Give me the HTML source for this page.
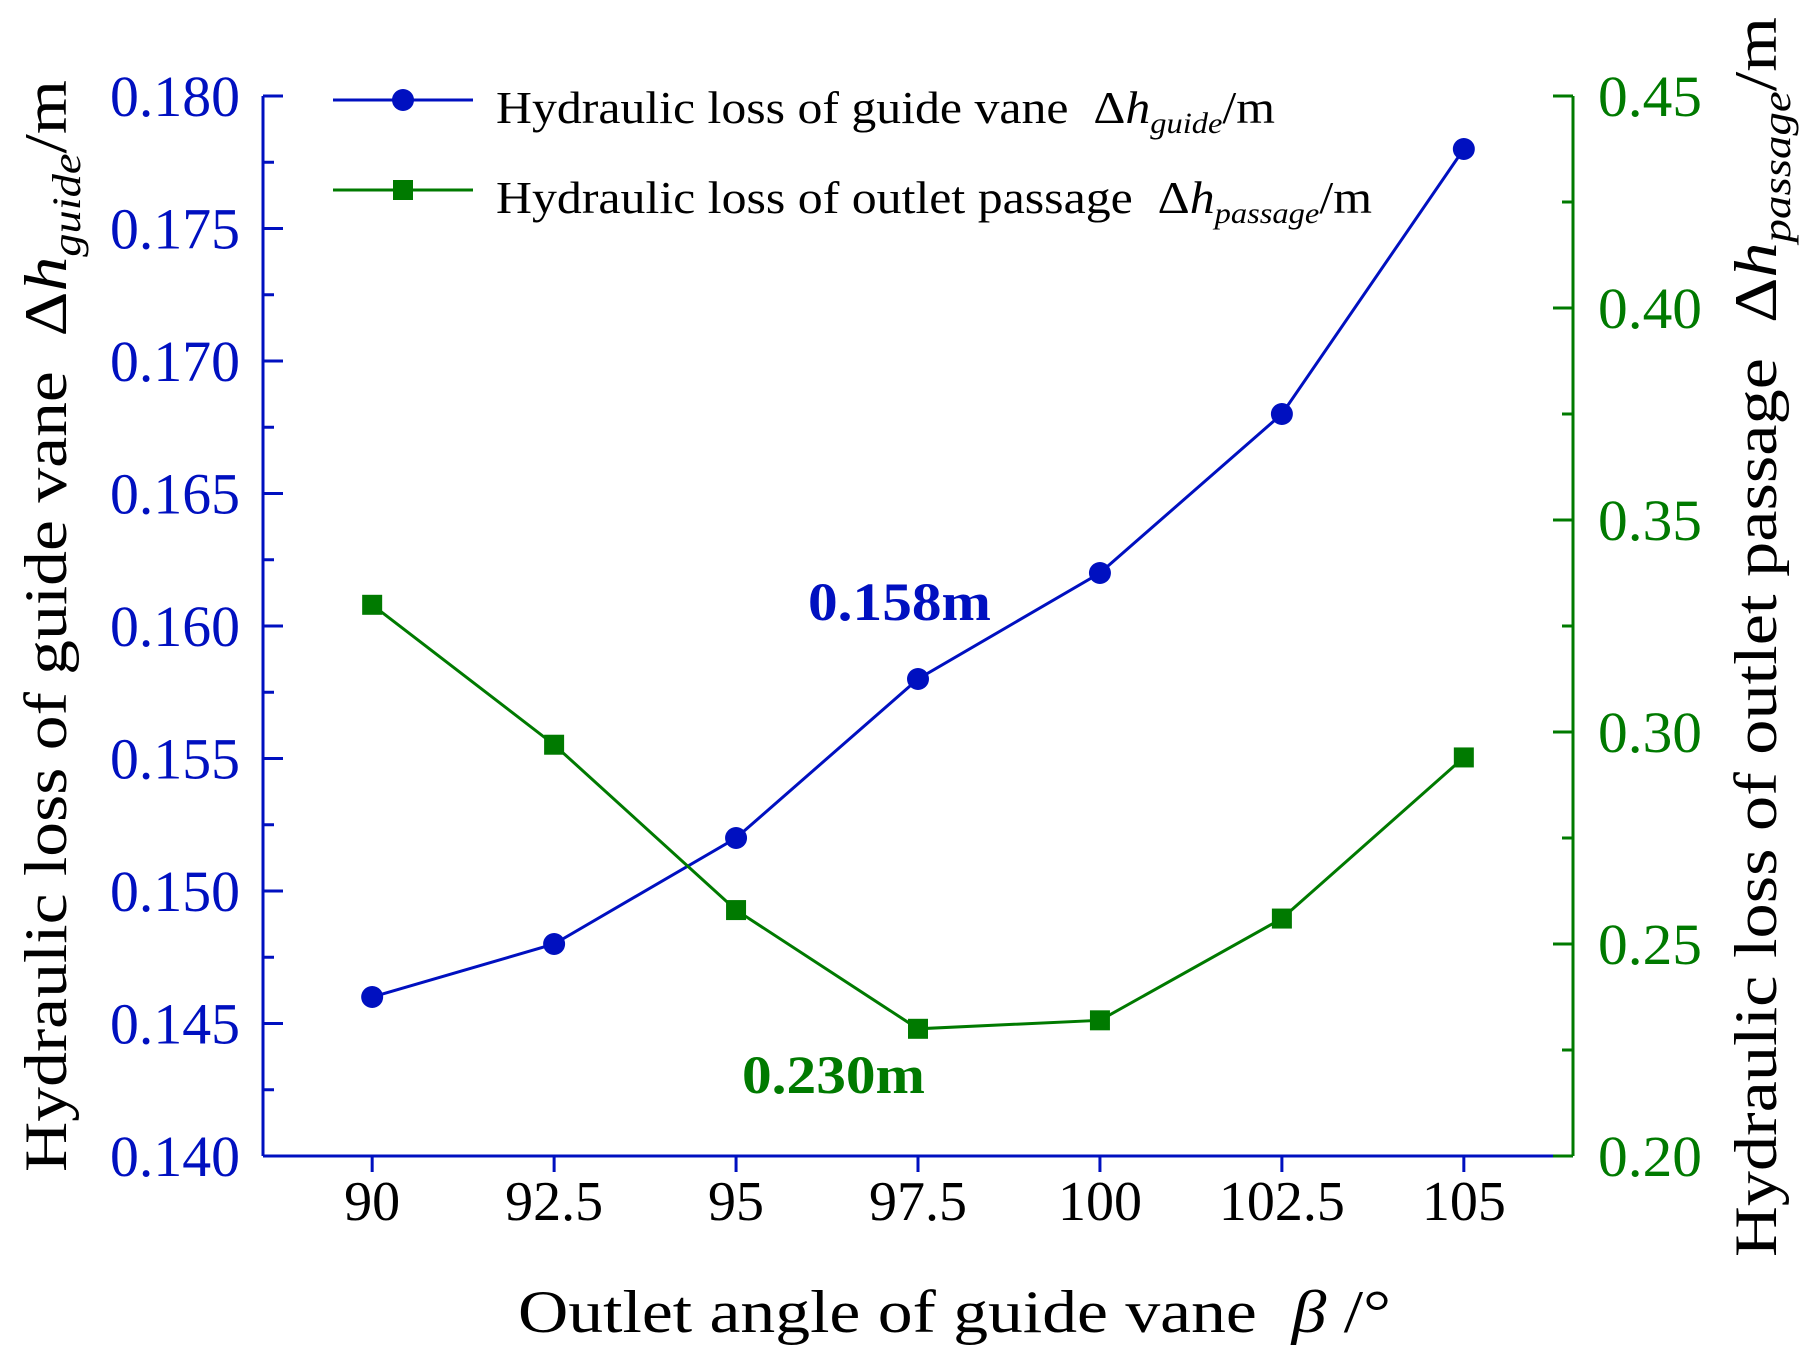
<!DOCTYPE html>
<html><head><meta charset="utf-8"><style>
html,body{margin:0;padding:0;background:#fff}
svg{display:block}
text{font-family:"Liberation Serif",serif}
</style></head><body>
<svg id="chart" width="1817" height="1363" viewBox="0 0 1817 1363" xmlns="http://www.w3.org/2000/svg">
<g id="axes"></g><g id="series"></g>
<g>
 <line x1="333" y1="100" x2="473" y2="100" stroke="#0010c0" stroke-width="3"/>
 <circle cx="403" cy="100" r="11" fill="#0010c0"/>
 <text x="496" y="123" font-size="46" textLength="779" lengthAdjust="spacingAndGlyphs">Hydraulic loss of guide vane&#160;&#160;Δ<tspan font-style="italic">h</tspan><tspan font-style="italic" font-size="30" dy="10">guide</tspan><tspan dy="-10">/m</tspan></text>
 <line x1="333" y1="190" x2="473" y2="190" stroke="#007a00" stroke-width="3"/>
 <rect x="393" y="180" width="20" height="20" fill="#007a00"/>
 <text x="496" y="213" font-size="46" textLength="876" lengthAdjust="spacingAndGlyphs">Hydraulic loss of outlet passage&#160;&#160;Δ<tspan font-style="italic">h</tspan><tspan font-style="italic" font-size="30" dy="10">passage</tspan><tspan dy="-10">/m</tspan></text>
</g>
<text x="808" y="620" font-size="54" font-weight="bold" fill="#0010c0" textLength="183" lengthAdjust="spacingAndGlyphs">0.158m</text>
<text x="742" y="1093" font-size="54" font-weight="bold" fill="#007a00" textLength="183" lengthAdjust="spacingAndGlyphs">0.230m</text>
<text transform="translate(66,1172) rotate(-90)" font-size="60" textLength="1092" lengthAdjust="spacingAndGlyphs">Hydraulic loss of guide vane&#160;&#160;Δ<tspan font-style="italic">h</tspan><tspan font-style="italic" font-size="40" dy="14">guide</tspan><tspan dy="-14">/m</tspan></text>
<text transform="translate(1776,1257) rotate(-90)" font-size="60" textLength="1240" lengthAdjust="spacingAndGlyphs">Hydraulic loss of outlet passage&#160;&#160;Δ<tspan font-style="italic">h</tspan><tspan font-style="italic" font-size="40" dy="14">passage</tspan><tspan dy="-14">/m</tspan></text>
<text x="518" y="1332" font-size="60" textLength="873" lengthAdjust="spacingAndGlyphs">Outlet angle of guide vane&#160;&#160;<tspan font-style="italic">β</tspan> /°</text>
</svg>
<script>
const categories=[90,92.5,95,97.5,100,102.5,105];
const guideValues=[0.146,0.148,0.152,0.158,0.162,0.168,0.178];
const passageValues=[0.330,0.297,0.258,0.230,0.232,0.256,0.294];
const leftTicks=["0.140","0.145","0.150","0.155","0.160","0.165","0.170","0.175","0.180"];
const rightTicks=["0.20","0.25","0.30","0.35","0.40","0.45"];
const xTicks=["90","92.5","95","97.5","100","102.5","105"];
const L=263,R=1573,T=96,B=1156;
const xS=v=>L+(v-88.5)/(106.5-88.5)*(R-L);
const yL=v=>B-(v-0.140)/(0.180-0.140)*(B-T);
const yR=v=>B-(v-0.20)/(0.45-0.20)*(B-T);
const NS="http://www.w3.org/2000/svg";
const ax=document.getElementById('axes'),se=document.getElementById('series');
function mk(tag,at,p){const e=document.createElementNS(NS,tag);for(const k in at)e.setAttribute(k,at[k]);p.appendChild(e);return e;}
const BLUE="#0010c0",GREEN="#007a00";
let e;
e=mk('line',{x1:L,y1:T,x2:L,y2:B,stroke:BLUE,'stroke-width':3},ax);


e=mk('line',{x1:R,y1:T,x2:R,y2:B,stroke:GREEN,'stroke-width':3},ax);


e=mk('line',{x1:L,y1:B,x2:R,y2:B,stroke:BLUE,'stroke-width':3},ax);


leftTicks.forEach((t,i)=>{const y=yL(+t);
 mk('line',{x1:L,y1:y,x2:L+20,y2:y,stroke:BLUE,'stroke-width':3},ax);
 if(i<leftTicks.length-1){const ym=yL(+t+0.0025);mk('line',{x1:L,y1:ym,x2:L+11,y2:ym,stroke:BLUE,'stroke-width':3},ax);}
 const tx=mk('text',{x:240,y:y+20,'font-size':58,'text-anchor':'end',fill:BLUE,textLength:130,lengthAdjust:'spacingAndGlyphs'},ax);tx.textContent=t;
 
 
});
rightTicks.forEach((t,i)=>{const y=yR(+t);
 mk('line',{x1:R,y1:y,x2:R-20,y2:y,stroke:GREEN,'stroke-width':3},ax);
 if(i<rightTicks.length-1){const ym=yR(+t+0.025);mk('line',{x1:R,y1:ym,x2:R-11,y2:ym,stroke:GREEN,'stroke-width':3},ax);}
 const tx=mk('text',{x:1598,y:y+20,'font-size':58,fill:GREEN,textLength:104,lengthAdjust:'spacingAndGlyphs'},ax);tx.textContent=t;
 
 
});
xTicks.forEach((t,i)=>{const x=xS(categories[i]);
 mk('line',{x1:x,y1:B,x2:x,y2:B+16,stroke:BLUE,'stroke-width':3},ax);
 const tx=mk('text',{x:x,y:1220,'font-size':56,'text-anchor':'middle',fill:'#000'},ax);tx.textContent=t;
 
 
});
e=mk('polyline',{points:categories.map((c,i)=>xS(c)+','+yL(guideValues[i])).join(' '),fill:'none',stroke:BLUE,'stroke-width':3},se);


e=mk('polyline',{points:categories.map((c,i)=>xS(c)+','+yR(passageValues[i])).join(' '),fill:'none',stroke:GREEN,'stroke-width':3},se);


categories.forEach((c,i)=>{
 const p=mk('circle',{cx:xS(c),cy:yL(guideValues[i]),r:11,fill:BLUE},se);
 
 
 const s=mk('rect',{x:xS(c)-10,y:yR(passageValues[i])-10,width:20,height:20,fill:GREEN},se);
 
 
});
</script>
</body></html>
